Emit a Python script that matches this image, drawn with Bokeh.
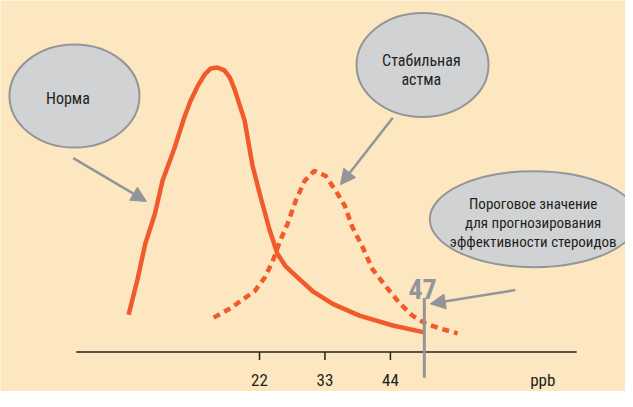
from bokeh.plotting import figure
from bokeh.models import Range1d, Arrow, NormalHead
from bokeh.core.properties import value
from bokeh.embed import file_html
from bokeh.resources import INLINE

# ---- data (x in ppb, y = relative level) ----
norm_x = [0.0, 1.5, 2.8, 4.4, 5.7, 7.7, 9.4, 10.4, 11.6, 12.8, 13.8, 14.9, 16.1, 17.0,
          17.8, 18.6, 19.5, 20.8, 22.2, 23.7, 25.0, 26.4, 28.7, 30.9, 34.3, 38.8, 44.4, 49.7]
norm_y = [3.8, 7.4, 11.0, 14.0, 17.4, 20.7, 23.9, 25.5, 27.0, 28.2, 28.8, 28.9, 28.6, 27.9,
          26.7, 25.2, 23.5, 19.0, 15.7, 12.4, 10.0, 8.7, 7.4, 6.2, 4.9, 3.7, 2.7, 2.0]

asthma_x = [14.3, 17.0, 19.1, 21.2, 22.8, 24.2, 25.4, 26.7, 28.1, 29.6, 31.2, 33.1,
            34.8, 36.3, 37.6, 39.3, 41.0, 43.2, 45.5, 47.7, 49.9, 52.3, 55.3]
asthma_y = [3.5, 4.4, 5.3, 6.2, 7.5, 9.2, 11.2, 13.0, 15.4, 17.4, 18.4, 17.9,
            16.4, 14.9, 12.7, 10.7, 8.4, 6.7, 5.0, 3.7, 2.9, 2.4, 1.9]

tick_values = [22, 33, 44]
tick_labels = ["22", "33", "44"]
unit_label = "ppb"
threshold_pos = 49.7
threshold_label = "47"

bubble_labels = ["Норма", "Стабильная\nастма",
                 "Пороговое значение\nдля прогнозирования\nэффективности стероидов"]

# ---- styles ----
BG = "#FDE7C0"
RED = "#F15A2B"
GRAY = "#939598"
FILL = "#D1D2D4"
DARK = "#231F20"
FONT = "Liberation Sans Narrow, Roboto Condensed, Roboto"

p = figure(width=625, height=391, x_range=Range1d(-21.53, 83.51), y_range=Range1d(-4.0, 35.7),
           output_backend="svg", toolbar_location=None, min_border=0,
           x_axis_location=None, y_axis_location=None)
p.grid.visible = False
p.outline_line_color = None
p.background_fill_color = BG
p.border_fill_color = BG

# bubbles
bx = [-9.1, 49.4, 68.1]
by = [26.0, 29.15, 13.5]
bw = [130, 132, 208]
bh = [103, 104, 96]
p.ellipse(x=bx, y=by, width=bw, height=bh, width_units="screen", height_units="screen",
          fill_color=FILL, line_color=GRAY, line_width=2)

# bubble texts (one row per line)
tx, ty, tt, ts = [], [], [], []
line_pos = [[(-10.2, 25.7)], [(49.2, 29.6), (49.2, 27.7)],
            [(68.0, 15.0), (68.0, 13.1), (68.0, 11.2)]]
sizes = ["16px", "16px", "15px"]
for label, poss, sz in zip(bubble_labels, line_pos, sizes):
    for line, (x, y) in zip(label.split("\n"), poss):
        tx.append(x); ty.append(y); tt.append(line); ts.append(sz)
p.text(x=tx, y=ty, text=tt, text_align="center", text_baseline="middle",
       text_font=value(FONT), text_font_size=ts, text_color=DARK)

# curves
p.line(norm_x, norm_y, line_color=RED, line_width=4.5, line_join="round")
p.line(asthma_x, asthma_y, line_color=RED, line_width=4.5, line_dash="7 5")

# x axis
p.segment(x0=[-8.8], y0=[0], x1=[75.3], y1=[0], line_color=DARK, line_width=1.5)
p.segment(x0=tick_values, y0=[0] * 3, x1=tick_values, y1=[-0.8] * 3, line_color=DARK, line_width=1.5)
p.text(x=tick_values, y=[-2.8] * 3, text=tick_labels, text_align="center", text_baseline="middle",
       text_font=value(FONT), text_font_size="17px", text_color=DARK)
p.text(x=[69.6], y=[-2.8], text=[unit_label], text_align="center", text_baseline="middle",
       text_font=value(FONT), text_font_size="17px", text_color=DARK)

# threshold
p.segment(x0=[threshold_pos], y0=[5.5], x1=[threshold_pos], y1=[-2.6], line_color=GRAY, line_width=3)
p.text(x=[threshold_pos - 0.3], y=[6.4], text=[threshold_label], text_align="center",
       text_baseline="alphabetic", text_font=value(FONT), text_font_style="bold",
       text_font_size="28px", text_color=GRAY)

# arrows
arrows = [(-9.3, 19.7, 3.0, 15.3), (44.4, 23.8, 35.6, 17.0), (65.0, 6.3, 50.7, 4.9)]
for xs, ys, xe, ye in arrows:
    p.add_layout(Arrow(end=NormalHead(size=15, fill_color=GRAY, line_color=GRAY, line_width=1),
                       x_start=xs, y_start=ys, x_end=xe, y_end=ye,
                       line_color=GRAY, line_width=2.5))

open("out.html", "w").write(file_html(p, INLINE))
